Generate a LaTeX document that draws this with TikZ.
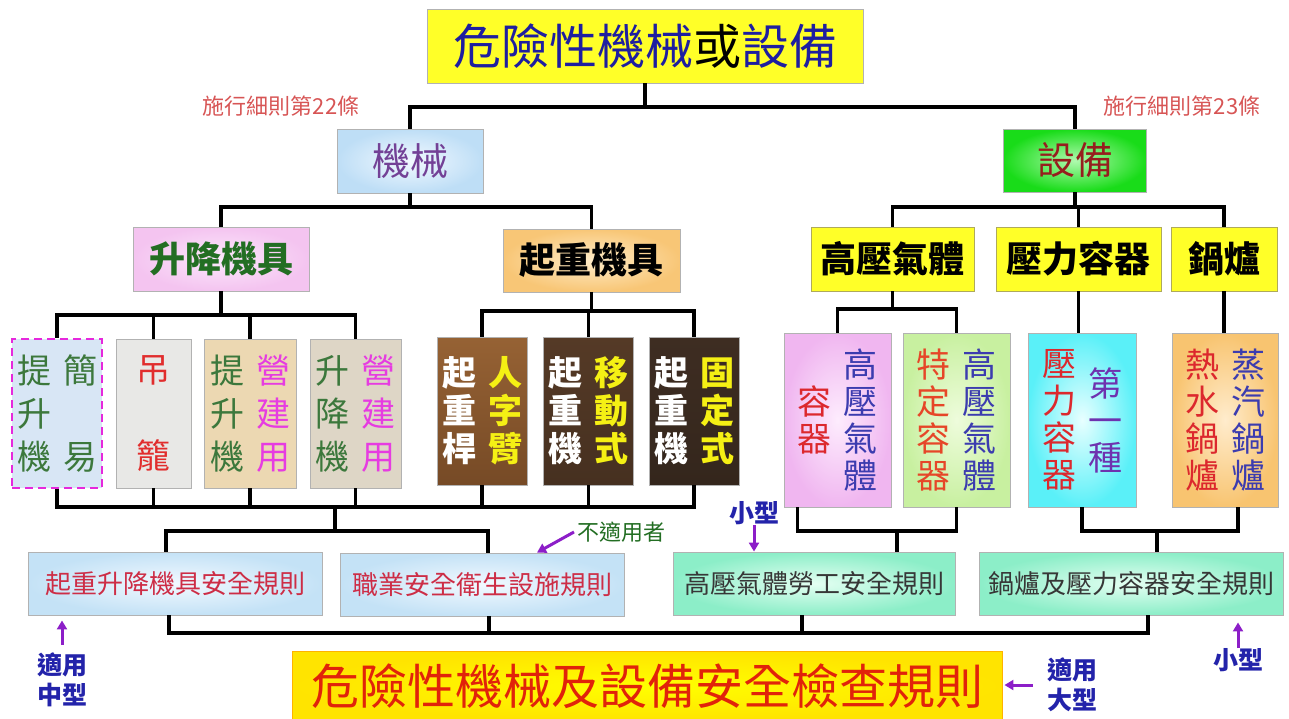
\documentclass[tikz,border=0pt]{standalone}
\usepackage{fontspec}
\setmainfont{Noto Sans CJK TC}
\usetikzlibrary{arrows.meta}

\definecolor{titleblue}{RGB}{30,30,160}
\definecolor{topyellow}{RGB}{255,255,40}
\definecolor{notered}{RGB}{215,85,85}
\definecolor{machviolet}{RGB}{115,65,150}
\definecolor{equipred}{RGB}{150,30,30}
\definecolor{liftgreen}{RGB}{35,110,35}
\definecolor{leafgreen}{RGB}{60,120,60}
\definecolor{buildpink}{RGB}{230,60,225}
\definecolor{gondred}{RGB}{225,45,45}
\definecolor{woodyellow}{RGB}{245,240,20}
\definecolor{gasblue}{RGB}{60,60,175}
\definecolor{gasred}{RGB}{220,40,45}
\definecolor{specred}{RGB}{230,70,40}
\definecolor{firstviolet}{RGB}{110,50,175}
\definecolor{rulered}{RGB}{205,45,70}
\definecolor{ruledark}{RGB}{55,55,55}
\definecolor{finalred}{RGB}{225,35,10}
\definecolor{notgreen}{RGB}{35,110,35}
\definecolor{hintblue}{RGB}{35,35,170}
\definecolor{arrowviolet}{RGB}{140,30,200}
\definecolor{dashpink}{RGB}{230,40,220}

\newcommand\fsz[2]{\fontsize{#1}{#2}\selectfont}
\newcommand\vtxt[1]{\parbox[c]{1em}{\centering #1}}

\tikzset{
  box/.style={draw=gray!60, line width=0.9pt, inner sep=0pt},
  link/.style={line width=3.3pt},
  yellowbox/.style={box, draw=gray!40!yellow!80!black, fill=topyellow,
    minimum height=64pt, font=\fsz{36}{40}\bfseries},
  tallbox/.style={box, minimum height=149pt, font=\fsz{34}{43}},
  woodbox/.style={box, minimum width=90pt, minimum height=148pt,
    font=\fsz{34}{38}\bfseries},
  gasbox/.style={box, minimum height=174pt, font=\fsz{34}{37}},
  rulebox/.style={box, minimum height=63pt, font=\fsz{26}{30}},
  hint/.style={font=\fsz{25}{30}\bfseries, text=hintblue, align=center,
    inner sep=0pt},
  pointer/.style={arrowviolet, line width=3pt,
    -{Triangle[length=9pt,width=10pt]}}
}

\begin{document}
\begin{tikzpicture}[x=1pt,y=-1pt]
  \useasboundingbox (0,0) rectangle (1289,718);

  % top
  \node[box, fill=topyellow, minimum width=436pt, minimum height=74pt,
    font=\fsz{48}{52}, text=titleblue] (top) at (645,46)
    {危險性機械{\color{black}或}設備};
  \node[font=\fsz{22}{24}, text=notered] (art22) at (281,106) {施行細則第22條};
  \node[font=\fsz{22}{24}, text=notered] (art23) at (1182,106) {施行細則第23條};

  % machinery / equipment
  \node[box, inner color={rgb,255:red,242;green,249;blue,255},
    outer color={rgb,255:red,190;green,222;blue,246},
    minimum width=146pt, minimum height=64pt, font=\fsz{38}{40},
    text=machviolet] (mach) at (410,161) {機械};
  \node[box, inner color={rgb,255:red,175;green,250;blue,175},
    outer color={rgb,255:red,25;green,220;blue,25},
    minimum width=143pt, minimum height=63pt, font=\fsz{38}{40},
    text=equipred] (equip) at (1075,160.5) {設備};

  % second level
  \node[box, inner color={rgb,255:red,252;green,232;blue,252},
    outer color={rgb,255:red,244;green,196;blue,240},
    minimum width=176pt, minimum height=64pt, font=\fsz{36}{40}\bfseries,
    text=liftgreen] (lift) at (221,259) {升降機具};
  \node[box, inner color={rgb,255:red,255;green,236;blue,200},
    outer color={rgb,255:red,248;green,198;blue,118},
    minimum width=177pt, minimum height=63pt, font=\fsz{36}{40}\bfseries]
    (crane) at (591.5,260.5) {起重機具};
  \node[yellowbox, minimum width=163pt] (gas) at (892.5,259) {高壓氣體};
  \node[yellowbox, minimum width=165pt] (vessel) at (1078.5,259) {壓力容器};
  \node[yellowbox, minimum width=106pt] (boiler) at (1224,259) {鍋爐};

  % lifting machines
  \node[tallbox, draw=dashpink, line width=2.6pt, dash pattern=on 8pt off 5pt,
    fill={rgb,255:red,216;green,230;blue,245}, minimum width=90pt]
    (simple) at (57,413.5)
    {{\color{leafgreen}\vtxt{提\\升\\機}}\hspace{12pt}{\color{leafgreen}\vtxt{簡\\\mbox{}\\易}}};
  \node[tallbox, fill={rgb,255:red,232;green,232;blue,230}, minimum width=75pt,
    text=gondred] (gondola) at (153.5,413.5) {\vtxt{吊\\\mbox{}\\籠}};
  \node[tallbox, fill={rgb,255:red,236;green,216;blue,178}, minimum width=92pt]
    (bhoist) at (250,413.5)
    {{\color{leafgreen}\vtxt{提\\升\\機}}\hspace{12pt}{\color{buildpink}\vtxt{營\\建\\用}}};
  \node[tallbox, fill={rgb,255:red,222;green,214;blue,198}, minimum width=91pt]
    (blift) at (355.5,413.5)
    {{\color{leafgreen}\vtxt{升\\降\\機}}\hspace{12pt}{\color{buildpink}\vtxt{營\\建\\用}}};

  % cranes
  \node[woodbox, top color={rgb,255:red,150;green,98;blue,52},
    bottom color={rgb,255:red,118;green,74;blue,38}] (derrick) at (482,411)
    {{\color{white}\vtxt{起\\重\\桿}}\hspace{12pt}{\color{woodyellow}\vtxt{人\\字\\臂}}};
  \node[woodbox, top color={rgb,255:red,85;green,58;blue,38},
    bottom color={rgb,255:red,70;green,48;blue,32}] (mobile) at (588.5,411)
    {{\color{white}\vtxt{起\\重\\機}}\hspace{12pt}{\color{woodyellow}\vtxt{移\\動\\式}}};
  \node[woodbox, top color={rgb,255:red,62;green,45;blue,34},
    bottom color={rgb,255:red,52;green,38;blue,28}] (fixed) at (694,411)
    {{\color{white}\vtxt{起\\重\\機}}\hspace{12pt}{\color{woodyellow}\vtxt{固\\定\\式}}};

  % gas, vessel, boiler
  \node[gasbox, minimum width=107pt, inner color={rgb,255:red,253;green,236;blue,253},
    outer color={rgb,255:red,240;green,182;blue,240}] (gascon) at (837.5,420)
    {{\color{gasred}\vtxt{容\\器}}\hspace{12pt}{\color{gasblue}\vtxt{高\\壓\\氣\\體}}};
  \node[gasbox, minimum width=107pt, inner color={rgb,255:red,238;green,252;blue,220},
    outer color={rgb,255:red,200;green,240;blue,160}] (gasspec) at (956.5,420)
    {{\color{specred}\vtxt{特\\定\\容\\器}}\hspace{12pt}{\color{gasblue}\vtxt{高\\壓\\氣\\體}}};
  \node[gasbox, minimum width=108pt, inner color={rgb,255:red,232;green,255;blue,255},
    outer color={rgb,255:red,90;green,240;blue,248}] (pv1) at (1082,420)
    {{\color{gasred}\vtxt{壓\\力\\容\\器}}\hspace{12pt}{\color{firstviolet}\vtxt{第\\一\\種}}};
  \node[gasbox, minimum width=106pt, inner color={rgb,255:red,255;green,236;blue,205},
    outer color={rgb,255:red,248;green,196;blue,112}] (boil) at (1225,420)
    {{\color{gasred}\vtxt{熱\\水\\鍋\\爐}}\hspace{12pt}{\color{gasblue}\vtxt{蒸\\汽\\鍋\\爐}}};

  % rules
  \node[rulebox, minimum width=294pt, text=rulered,
    inner color={rgb,255:red,242;green,249;blue,255},
    outer color={rgb,255:red,196;green,226;blue,246}] (rule1) at (175,583.5)
    {起重升降機具安全規則};
  \node[rulebox, minimum width=284pt, text=rulered,
    inner color={rgb,255:red,242;green,249;blue,255},
    outer color={rgb,255:red,196;green,226;blue,246}] (rule2) at (482,584.5)
    {職業安全衛生設施規則};
  \node[rulebox, minimum width=282pt, text=ruledark,
    inner color={rgb,255:red,228;green,255;blue,242},
    outer color={rgb,255:red,140;green,238;blue,200}] (rule3) at (814,583.5)
    {高壓氣體勞工安全規則};
  \node[rulebox, minimum width=304pt, text=ruledark,
    inner color={rgb,255:red,228;green,255;blue,242},
    outer color={rgb,255:red,140;green,238;blue,200}] (rule4) at (1131,583.5)
    {鍋爐及壓力容器安全規則};

  \node[box, draw=orange!60!yellow, inner color=yellow,
    outer color={rgb,255:red,255;green,228;blue,0}, minimum width=710pt,
    minimum height=70pt, font=\fsz{48}{52}, text=finalred] (final) at (647,686)
    {危險性機械及設備安全檢查規則};

  % hints
  \node[font=\fsz{22}{24}, text=notgreen, anchor=west, inner sep=0pt]
    (notapp) at (577,532) {不適用者};
  \node[hint] (small1) at (754,513) {小型};
  \node[hint] (midsize) at (62,680) {適用\\中型};
  \node[hint] (large) at (1072,685) {適用\\大型};
  \node[hint] (small2) at (1238,660) {小型};

  % bus levels
  \coordinate (busA) at (0,107);
  \coordinate (busB) at (0,207);
  \coordinate (busC) at (0,315);
  \coordinate (busD) at (0,311);
  \coordinate (busE) at (0,309);
  \coordinate (busF) at (0,507);
  \coordinate (busG) at (0,531);
  \coordinate (busH) at (0,633);
  \coordinate (dropA) at (335,507);
  \coordinate (dropB) at (897,531);
  \coordinate (dropC) at (1157,531);
  \coordinate (r1top) at ([xshift=-9pt]rule1.north);
  \coordinate (r2top) at ([xshift=6pt]rule2.north);
  \coordinate (gcb) at ([xshift=-40pt]gascon.south);
  \coordinate (bb) at ([xshift=13pt]boil.south);
  \coordinate (r1b) at ([xshift=-6pt]rule1.south);
  \coordinate (r2b) at ([xshift=7pt]rule2.south);
  \coordinate (r3b) at ([xshift=-12pt]rule3.south);
  \coordinate (r4b) at ([xshift=17pt]rule4.south);

  \begin{scope}[link]
    \draw (top.south) -- (top.south |- busA);
    \draw (mach.north) |- (equip.north |- busA) -- (equip.north);
    \draw (mach.south) -- (mach.south |- busB);
    \draw (lift.north) |- (crane.north |- busB) -- (crane.north);
    \draw (equip.south) -- (equip.south |- busB);
    \draw (gas.north) |- (boiler.north |- busB) -- (boiler.north);
    \draw (vessel.north) -- (vessel.north |- busB);
    \draw (lift.south) -- (lift.south |- busC);
    \draw (simple.north) |- (blift.north |- busC) -- (blift.north);
    \draw (gondola.north) -- (gondola.north |- busC);
    \draw (bhoist.north) -- (bhoist.north |- busC);
    \draw (crane.south) -- (crane.south |- busD);
    \draw (derrick.north) |- (fixed.north |- busD) -- (fixed.north);
    \draw (mobile.north) -- (mobile.north |- busD);
    \draw (gas.south) -- (gas.south |- busE);
    \draw (gascon.north) |- (gasspec.north |- busE) -- (gasspec.north);
    \draw (vessel.south) -- (vessel.south |- pv1.north);
    \draw (boiler.south) -- (boiler.south |- boil.north);
    \draw (simple.south) |- (fixed.south |- busF) -- (fixed.south);
    \draw (gondola.south) -- (gondola.south |- busF);
    \draw (bhoist.south) -- (bhoist.south |- busF);
    \draw (blift.south) -- (blift.south |- busF);
    \draw (derrick.south) -- (derrick.south |- busF);
    \draw (mobile.south) -- (mobile.south |- busF);
    \draw (dropA) -- (dropA |- busG);
    \draw (r1top) |- (r2top |- busG) -- (r2top);
    \draw (gcb) |- (gasspec.south |- busG) -- (gasspec.south);
    \draw (dropB) -- (dropB |- rule3.north);
    \draw (pv1.south) |- (bb |- busG) -- (bb);
    \draw (dropC) -- (dropC |- rule4.north);
    \draw (r1b) |- (r4b |- busH) -- (r4b);
    \draw (r2b) -- (r2b |- busH);
    \draw (r3b) -- (r3b |- busH);
  \end{scope}

  % pointers
  \draw[pointer] ([xshift=-3pt]notapp.west) -- ([xshift=55pt]rule2.north);
  \draw[pointer] (small1.south) -- (small1.south |- rule3.north);
  \draw[pointer, shorten <=8pt, shorten >=5pt] (midsize.north) -- (midsize.north |- rule1.south);
  \draw[pointer, shorten <=14pt, shorten >=2pt] (large.west) -- (final.east |- large.west);
  \draw[pointer, shorten >=7pt] (small2.north) -- (small2.north |- rule4.south);
\end{tikzpicture}
\end{document}
